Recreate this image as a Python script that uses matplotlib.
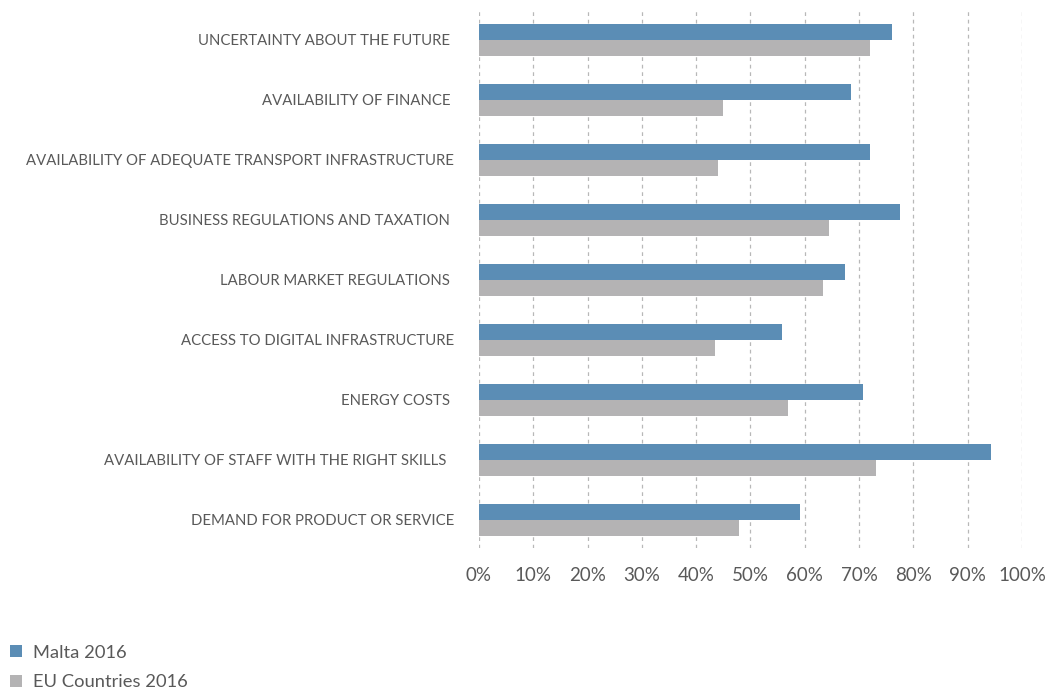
import matplotlib.pyplot as plt
import numpy as np

plt.rcParams['font.family'] = ['Lato', 'DejaVu Sans']

categorias = [
    "UNCERTAINTY ABOUT THE FUTURE ",
    "AVAILABILITY OF FINANCE ",
    "AVAILABILITY OF ADEQUATE TRANSPORT INFRASTRUCTURE",
    "BUSINESS REGULATIONS AND TAXATION ",
    "LABOUR MARKET REGULATIONS ",
    "ACCESS TO DIGITAL INFRASTRUCTURE",
    "ENERGY COSTS ",
    "AVAILABILITY OF STAFF WITH THE RIGHT SKILLS  ",
    "DEMAND FOR PRODUCT OR SERVICE",
]
malta_2016 = [76.1, 68.5, 72.0, 77.5, 67.4, 55.8, 70.8, 94.3, 59.1]
eu_2016 = [72.0, 45.0, 44.0, 64.4, 63.4, 43.5, 56.9, 73.2, 47.8]
ticks_x = [0, 10, 20, 30, 40, 50, 60, 70, 80, 90, 100]

cor_malta = "#5b8db5"
cor_eu = "#b4b3b4"
cor_texto = "#595959"

fig = plt.figure(figsize=(10.55, 6.9), dpi=100)
ax = fig.add_axes([0.454, 0.2058, 0.5147, 0.7797])

n = len(categorias)
ypos = np.arange(n)[::-1]
h = 0.27

ax.barh(ypos + h / 2, malta_2016, height=h, color=cor_malta, label="Malta 2016", zorder=3)
ax.barh(ypos - h / 2, eu_2016, height=h, color=cor_eu, label="EU Countries 2016", zorder=3)

ax.set_xlim(0, 100)
ax.set_ylim(-0.47, n - 0.5)
ax.set_xticks(ticks_x)
ax.set_xticklabels([f"{t}%" for t in ticks_x], fontsize=13.5, color=cor_texto)
ax.set_yticks(ypos)
ax.set_yticklabels(categorias, fontsize=10.7, color=cor_texto)
ax.tick_params(axis="x", length=0, pad=14)
ax.tick_params(axis="y", length=0, pad=18)

# grade tracejada vertical, incluindo 0% e 100%
for t in ticks_x:
    ax.axvline(t, color="#b8b8b8", linestyle=(0, (3, 3)), linewidth=0.9, zorder=1)

for s in ax.spines.values():
    s.set_visible(False)

leg = fig.legend(loc="lower left", bbox_to_anchor=(-0.006, -0.024), frameon=False,
                 fontsize=13.2, handlelength=0.62, handleheight=0.62, handletextpad=0.6,
                 labelspacing=0.72, labelcolor=cor_texto)

fig.savefig("out.png", dpi=100)
